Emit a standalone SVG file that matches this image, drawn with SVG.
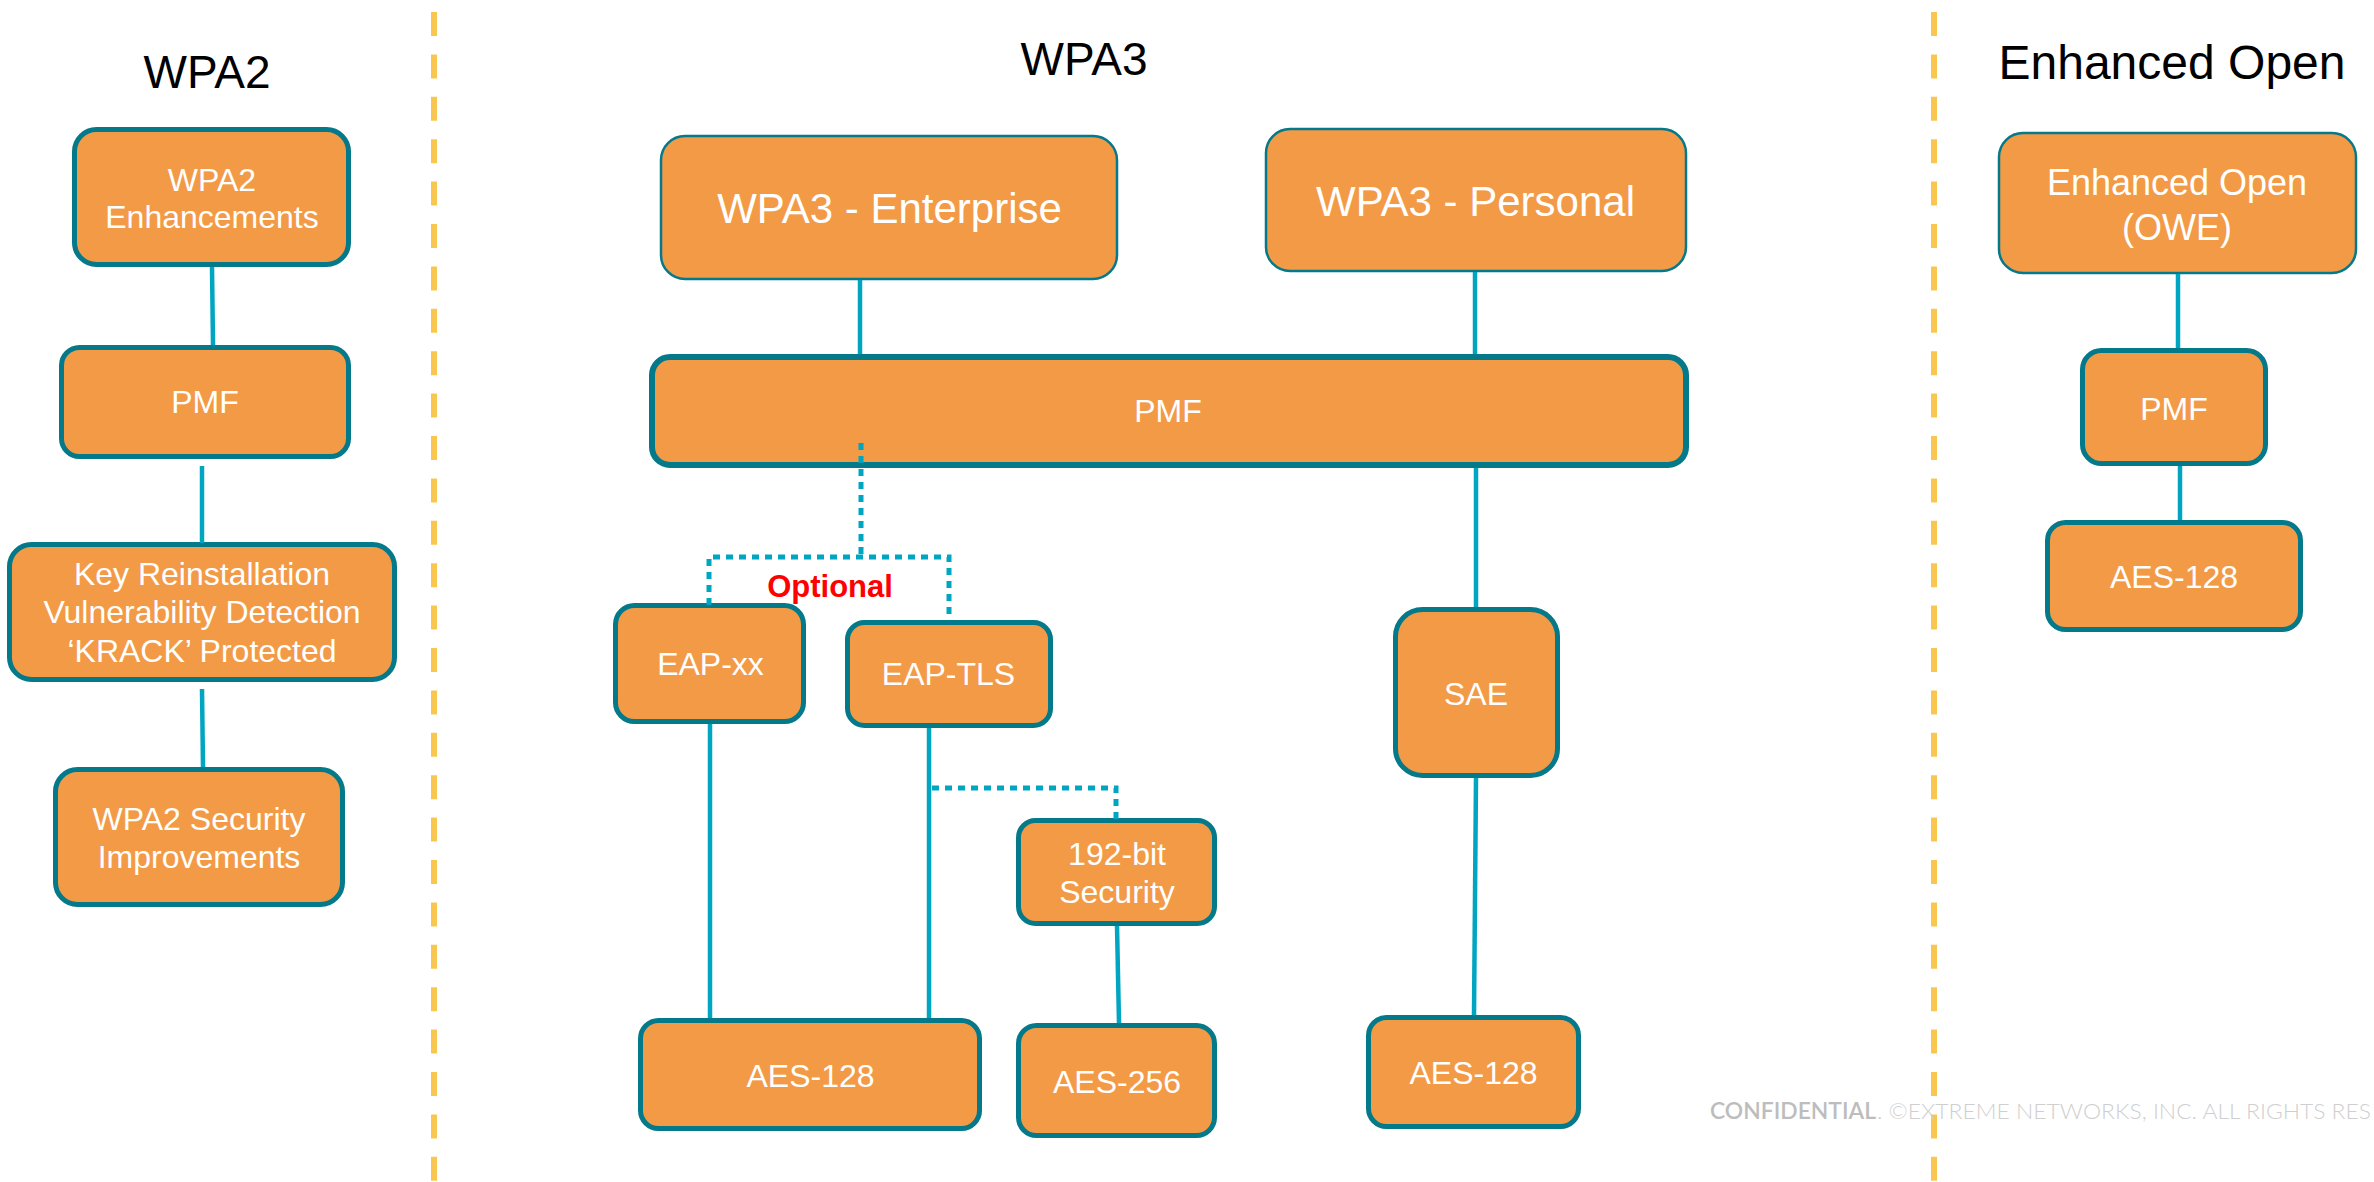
<svg xmlns="http://www.w3.org/2000/svg" width="2374" height="1182" viewBox="0 0 2374 1182">
<style>
  .box{fill:#F39A46;stroke:#04798A;stroke-width:5}
  .thin{stroke-width:2.5}
  .big{stroke-width:6}
  .lbl{font-family:"Liberation Sans",Arial,sans-serif;fill:#FFFFFF;font-size:32px;text-anchor:middle}
  .title{font-family:"Liberation Sans",Arial,sans-serif;fill:#000000;font-size:46px;text-anchor:middle}
  .conn{stroke:#00A6C1;stroke-width:4.5;fill:none}
  .dot{stroke:#00A6C1;stroke-width:5;fill:none;stroke-dasharray:7 6}
  .sep{stroke:#F9C74F;stroke-width:6;fill:none;stroke-dasharray:24 18.4}
</style>
<rect width="2374" height="1182" fill="#FFFFFF"/>
<g id="separators">
  <line class="sep" x1="434" y1="12" x2="434" y2="1182"/>
  <line class="sep" x1="1934" y1="12" x2="1934" y2="1182"/>
</g>
<g id="titles">
  <text class="title" x="207" y="88">WPA2</text>
  <text class="title" x="1084" y="75">WPA3</text>
  <text class="title" x="2172" y="79" style="font-size:48px">Enhanced Open</text>
</g>
<g id="node-wpa2-enh"><rect class="box" x="74.5" y="129.5" width="274" height="135" rx="22"/>
  <text class="lbl" x="212" y="191">WPA2</text><text class="lbl" x="212" y="228">Enhancements</text></g>
<g id="node-wpa2-pmf"><rect class="box" x="61.5" y="347.5" width="287" height="109" rx="18"/>
  <text class="lbl" x="205" y="413">PMF</text></g>
<g id="node-krack"><rect class="box" x="9.5" y="544.5" width="385" height="135" rx="22"/>
  <text class="lbl" x="202" y="585">Key Reinstallation</text><text class="lbl" x="202" y="623">Vulnerability Detection</text><text class="lbl" x="202" y="662">‘KRACK’ Protected</text></g>
<g id="node-wpa2-sec"><rect class="box" x="55.5" y="769.5" width="287" height="135" rx="22"/>
  <text class="lbl" x="199" y="830">WPA2 Security</text><text class="lbl" x="199" y="868">Improvements</text></g>
<g id="node-wpa3-ent"><rect class="box thin" x="661" y="136" width="456" height="143" rx="24"/>
  <text class="lbl" x="889.5" y="223" style="font-size:42px">WPA3 - Enterprise</text></g>
<g id="node-wpa3-pers"><rect class="box thin" x="1266" y="129" width="420" height="142" rx="24"/>
  <text class="lbl" x="1475.5" y="216" style="font-size:42px">WPA3 - Personal</text></g>
<g id="node-wpa3-pmf"><rect class="box big" x="652" y="357" width="1034" height="108" rx="18"/>
  <text class="lbl" x="1168" y="422">PMF</text></g>
<g id="node-eapxx"><rect class="box" x="615.5" y="605.5" width="188" height="116" rx="19"/>
  <text class="lbl" x="710.5" y="675">EAP-xx</text></g>
<g id="node-eaptls"><rect class="box" x="847.5" y="622.5" width="203" height="103" rx="17"/>
  <text class="lbl" x="948.5" y="685">EAP-TLS</text></g>
<g id="node-192"><rect class="box" x="1018.5" y="820.5" width="196" height="103" rx="17"/>
  <text class="lbl" x="1117" y="865">192-bit</text><text class="lbl" x="1117" y="903">Security</text></g>
<g id="node-aes128-ent"><rect class="box" x="640.5" y="1020.5" width="339" height="108" rx="18"/>
  <text class="lbl" x="810.5" y="1087">AES-128</text></g>
<g id="node-aes256"><rect class="box" x="1018.5" y="1025.5" width="196" height="110" rx="18"/>
  <text class="lbl" x="1117" y="1093">AES-256</text></g>
<g id="node-sae"><rect class="box" x="1395.5" y="609.5" width="162" height="166" rx="27"/>
  <text class="lbl" x="1476" y="705">SAE</text></g>
<g id="node-aes128-pers"><rect class="box" x="1368.5" y="1017.5" width="210" height="109" rx="18"/>
  <text class="lbl" x="1473.5" y="1084">AES-128</text></g>
<g id="node-owe"><rect class="box thin" x="1999" y="133" width="357" height="140" rx="24"/>
  <text class="lbl" x="2177" y="195" style="font-size:36px">Enhanced Open</text><text class="lbl" x="2177" y="240" style="font-size:36px">(OWE)</text></g>
<g id="node-owe-pmf"><rect class="box" x="2082.5" y="350.5" width="183" height="113" rx="19"/>
  <text class="lbl" x="2174" y="420">PMF</text></g>
<g id="node-owe-aes"><rect class="box" x="2047.5" y="522.5" width="253" height="107" rx="18"/>
  <text class="lbl" x="2174" y="588">AES-128</text></g>
<g id="connectors">
  <line class="conn" x1="212" y1="267" x2="213" y2="345"/>
  <line class="conn" x1="202" y1="466" x2="202" y2="543"/>
  <line class="conn" x1="202" y1="689" x2="203" y2="767"/>
  <line class="conn" x1="860" y1="280" x2="860" y2="354"/>
  <line class="conn" x1="1475" y1="272" x2="1475" y2="354"/>
  <line class="conn" x1="1476" y1="468" x2="1476" y2="607"/>
  <line class="conn" x1="1476" y1="778" x2="1474" y2="1015"/>
  <line class="conn" x1="710" y1="724" x2="710" y2="1018"/>
  <line class="conn" x1="929" y1="728" x2="929" y2="1018"/>
  <line class="conn" x1="1117" y1="926" x2="1119" y2="1023"/>
  <line class="conn" x1="2178" y1="274" x2="2178" y2="348"/>
  <line class="conn" x1="2180" y1="466" x2="2180" y2="520"/>
  <path class="dot" d="M861,443 V557"/>
  <path class="dot" d="M709,605 V557 H949 V620"/>
  <path class="dot" d="M932,788 H1116 V820"/>
  <text x="830" y="597" style="font-family:'Liberation Sans',Arial,sans-serif;font-weight:bold;font-size:31px;fill:#FF0000;text-anchor:middle">Optional</text>
</g>
<g id="footer" style="font-family:Lato,'Open Sans',sans-serif;font-size:22px">
  <text x="1710" y="1119" fill="#BDBDBD" font-weight="600" textLength="166" lengthAdjust="spacingAndGlyphs">CONFIDENTIAL</text>
  <text x="1877" y="1119" fill="#CFCFCF" font-weight="300" textLength="494" lengthAdjust="spacingAndGlyphs">. ©EXTREME NETWORKS, INC. ALL RIGHTS RES</text>
</g>
</svg>
